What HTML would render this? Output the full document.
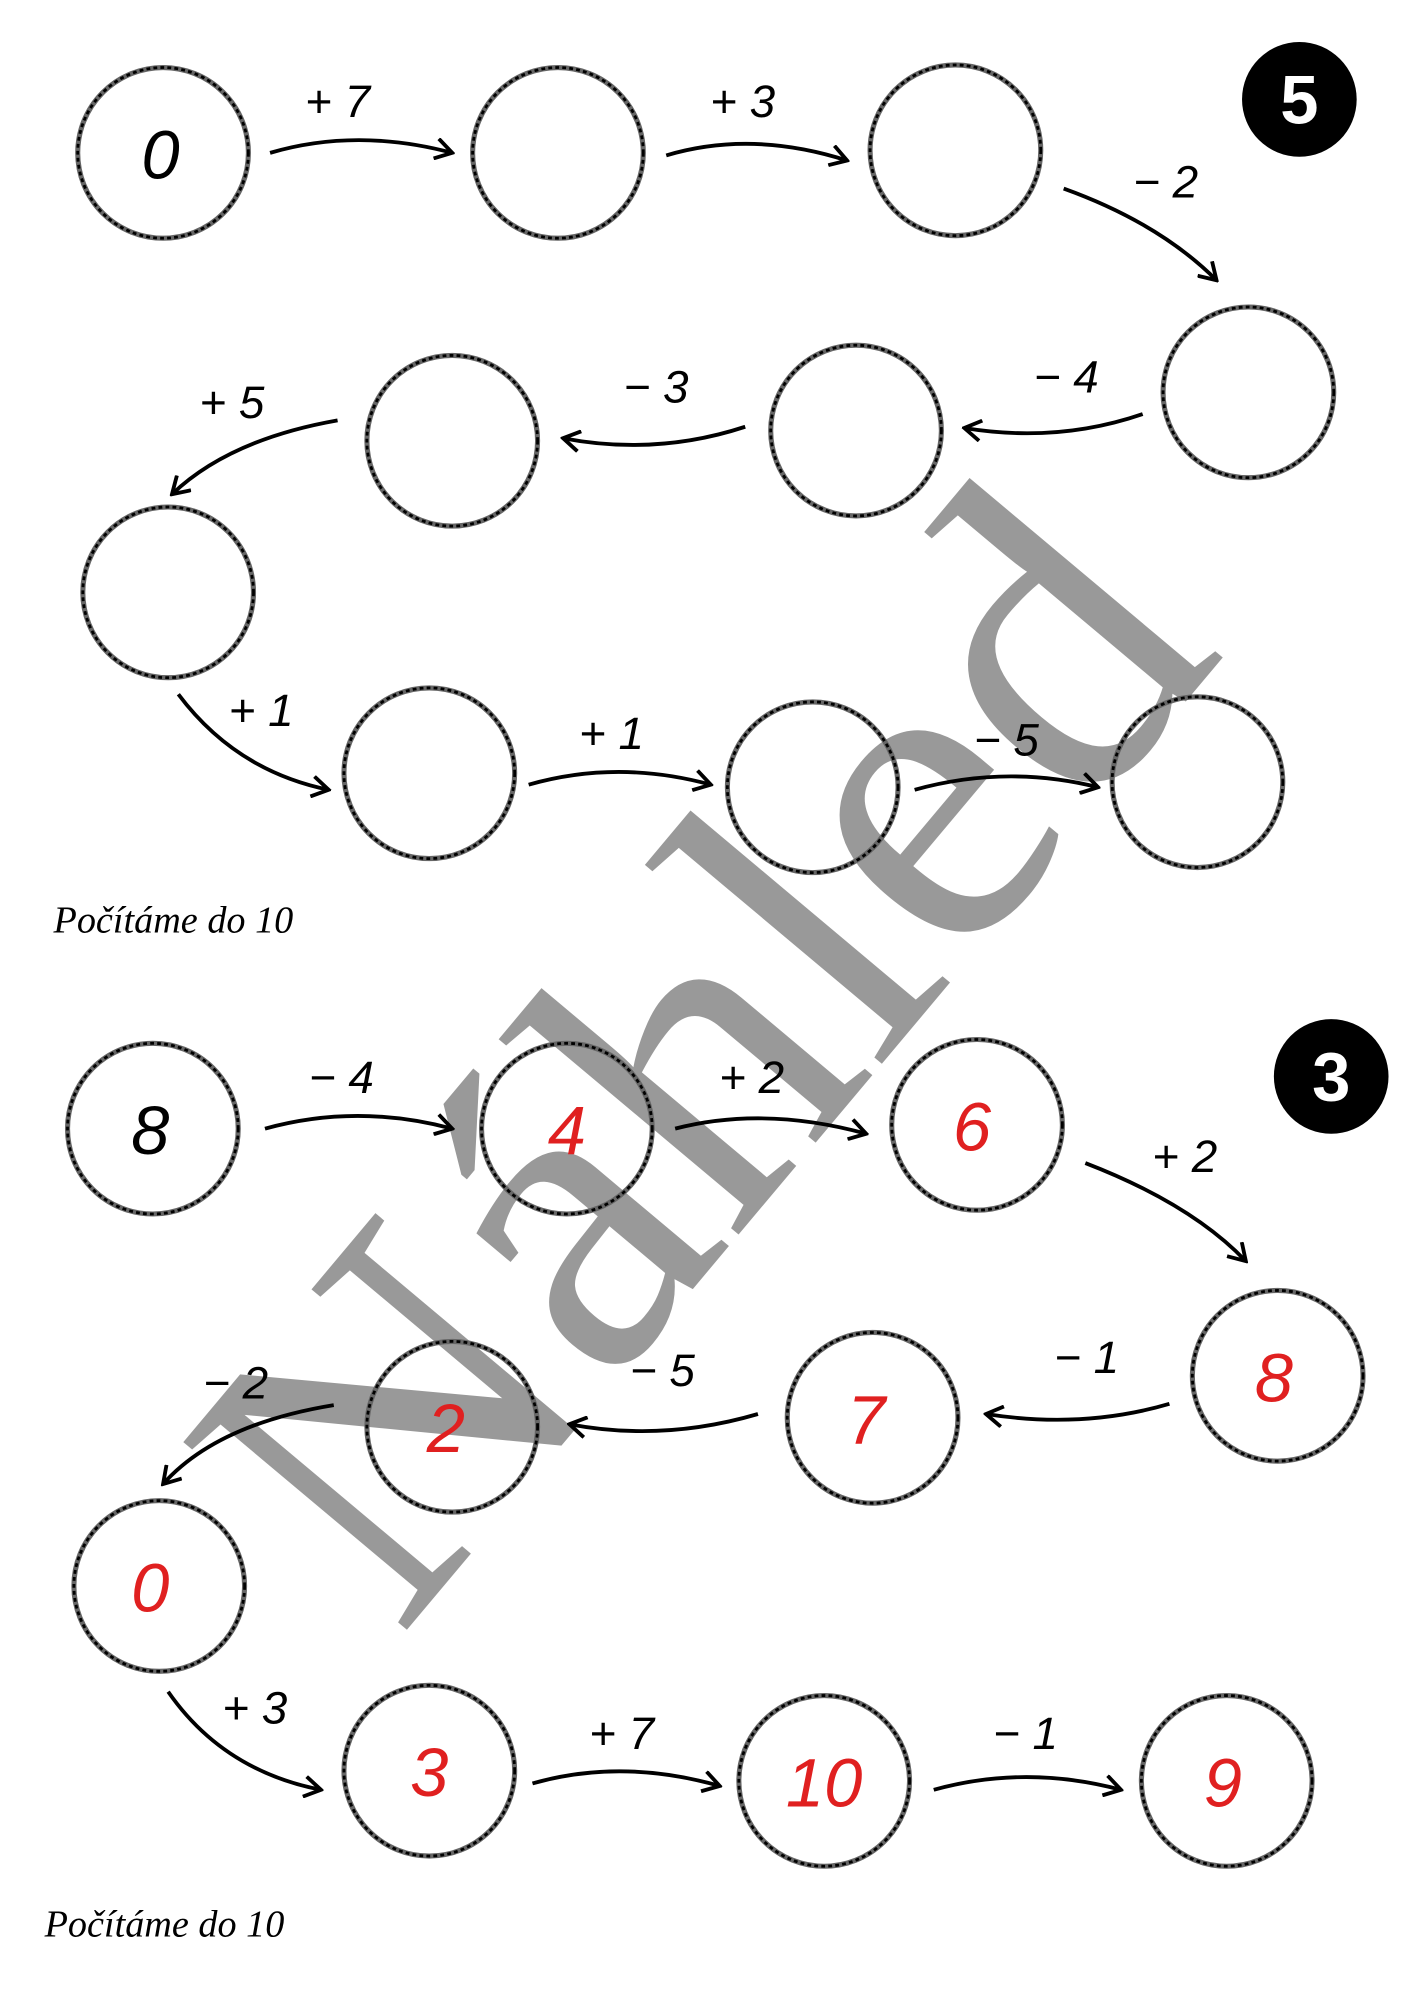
<!DOCTYPE html>
<html><head><meta charset="utf-8"><style>html,body{margin:0;padding:0;background:#fff}svg{display:block}</style></head>
<body>
<svg width="1414" height="2000" viewBox="0 0 1110 1570" preserveAspectRatio="none" xmlns="http://www.w3.org/2000/svg">
<defs>
<marker id="ah" markerWidth="16" markerHeight="18" refX="14" refY="9" orient="auto" markerUnits="userSpaceOnUse">
<path d="M1,1 L14,9 L1,17" fill="none" stroke="#000" stroke-width="3"/>
</marker>
<g id="c"><circle r="67" fill="none" stroke="#666" stroke-width="4"/><circle r="67" fill="none" stroke="#000" stroke-width="2.2" stroke-dasharray="3 2.5"/></g>
</defs>
<style>
.n{font-family:"Liberation Sans",sans-serif;font-size:54px;font-style:italic;font-weight:normal;text-anchor:middle}
.l{font-family:"Liberation Sans",sans-serif;font-size:36px;font-style:italic;text-anchor:middle}
.a{fill:none;stroke:#000;stroke-width:3;marker-end:url(#ah)}
.r{fill:#e02020}
.f{font-family:"Liberation Serif",serif;font-style:italic;font-size:30px}
</style>
<!-- watermark -->
<text x="552" y="940" fill="#999" font-family="Liberation Serif,serif" font-size="350" text-anchor="middle" transform="rotate(-50 552 828)">Náhled</text>
<!-- top -->
<use href="#c" x="128" y="120"/><use href="#c" x="438" y="120"/><use href="#c" x="750" y="118"/><use href="#c" x="980" y="308"/><use href="#c" x="672" y="338"/><use href="#c" x="355" y="346"/><use href="#c" x="132" y="465"/><use href="#c" x="337" y="607"/><use href="#c" x="638" y="618"/><use href="#c" x="940" y="614"/>
<text class="n" x="126" y="140">0</text>
<path class="a" d="M212,120 Q280,100 355,120"/><text class="l" x="265" y="92">+ 7</text>
<path class="a" d="M523,122 Q590,102 665,126"/><text class="l" x="583" y="92">+ 3</text>
<path class="a" d="M835,148 Q910,175 955,220"/><text class="l" x="915" y="155">− 2</text>
<path class="a" d="M897,325 Q830,348 757,336"/><text class="l" x="837" y="308">− 4</text>
<path class="a" d="M585,335 Q515,358 442,344"/><text class="l" x="515" y="316">− 3</text>
<path class="a" d="M265,330 Q180,345 135,388"/><text class="l" x="182" y="328">+ 5</text>
<path class="a" d="M140,545 Q185,605 258,620"/><text class="l" x="205" y="570">+ 1</text>
<path class="a" d="M415,616 Q485,596 558,616"/><text class="l" x="480" y="588">+ 1</text>
<path class="a" d="M718,620 Q790,600 862,618"/><text class="l" x="790" y="593">− 5</text>
<circle cx="1020" cy="78" r="45" fill="#000"/><text x="1020" y="97" fill="#fff" font-family="Liberation Sans,sans-serif" font-weight="bold" font-size="54" text-anchor="middle">5</text>
<text class="f" x="42" y="732">Počítáme do 10</text>
<!-- bottom -->
<use href="#c" x="120" y="886"/><use href="#c" x="445" y="886"/><use href="#c" x="767" y="883"/><use href="#c" x="1003" y="1080"/><use href="#c" x="685" y="1113"/><use href="#c" x="355" y="1120"/><use href="#c" x="125" y="1245"/><use href="#c" x="337" y="1390"/><use href="#c" x="647" y="1398"/><use href="#c" x="963" y="1398"/>
<text class="n" x="118" y="906">8</text>
<text class="n r" x="445" y="906">4</text><text class="n r" x="763" y="903">6</text><text class="n r" x="1000" y="1100">8</text><text class="n r" x="680" y="1133">7</text><text class="n r" x="350" y="1140">2</text><text class="n r" x="118" y="1265">0</text><text class="n r" x="337" y="1410">3</text><text class="n r" x="647" y="1418">10</text><text class="n r" x="960" y="1418">9</text>
<path class="a" d="M208,886 Q280,866 355,886"/><text class="l" x="268" y="858">− 4</text>
<path class="a" d="M530,886 Q600,868 680,890"/><text class="l" x="590" y="858">+ 2</text>
<path class="a" d="M852,913 Q935,945 978,990"/><text class="l" x="930" y="920">+ 2</text>
<path class="a" d="M918,1102 Q850,1122 774,1110"/><text class="l" x="853" y="1078">− 1</text>
<path class="a" d="M595,1110 Q520,1132 447,1118"/><text class="l" x="520" y="1088">− 5</text>
<path class="a" d="M262,1103 Q170,1118 128,1165"/><text class="l" x="185" y="1098">− 2</text>
<path class="a" d="M132,1328 Q175,1390 252,1405"/><text class="l" x="200" y="1353">+ 3</text>
<path class="a" d="M418,1400 Q488,1380 565,1402"/><text class="l" x="488" y="1373">+ 7</text>
<path class="a" d="M733,1405 Q805,1385 880,1405"/><text class="l" x="805" y="1373">− 1</text>
<circle cx="1045" cy="845" r="45" fill="#000"/><text x="1045" y="864" fill="#fff" font-family="Liberation Sans,sans-serif" font-weight="bold" font-size="54" text-anchor="middle">3</text>
<text class="f" x="35" y="1520">Počítáme do 10</text>
</svg>
</body></html>
